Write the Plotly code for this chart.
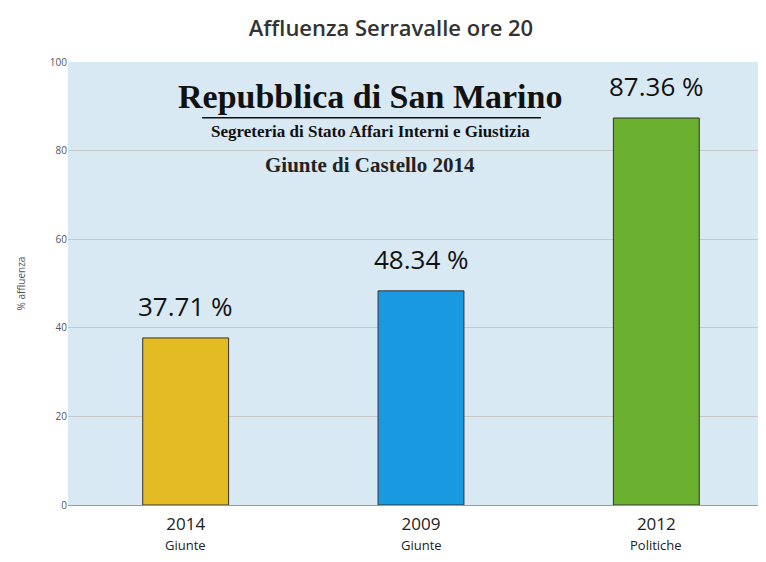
import plotly.graph_objects as go

years = ["2014", "2009", "2012"]
kinds = ["Giunte", "Giunte", "Politiche"]
values = [37.71, 48.34, 87.36]
colors = ["#e3bc23", "#1899e0", "#6aaf2d"]

xs = [0, 1, 2]

fig = go.Figure()
fig.add_trace(go.Bar(
    x=xs, y=values, width=0.365,
    marker=dict(color=colors, line=dict(color="#333333", width=1)),
))

ann = []
for x, v in zip(xs, values):
    ann.append(dict(x=x, y=v, text=f"{v:.2f} %", showarrow=False, yanchor="bottom", yshift=12,
                    font=dict(family="Open Sans", size=26, color="#111111", weight=500)))
for x, k in zip(xs, kinds):
    ann.append(dict(x=x, y=-0.09, yref="paper", text=k, showarrow=False, yanchor="middle",
                    font=dict(family="Open Sans", size=13, color="#222222")))
hx = 0.428
ann += [
    dict(text="<b>Repubblica di San Marino</b>", x=hx, y=0.921, xref="paper", yref="paper", yanchor="middle",
         showarrow=False, font=dict(family="Liberation Serif", size=34, color="#111111")),
    dict(text="<b>Segreteria di Stato Affari Interni e Giustizia</b>", x=hx, y=0.844, xref="paper", yref="paper",
         yanchor="middle", showarrow=False, font=dict(family="Liberation Serif", size=17, color="#111111")),
    dict(text="<b>Giunte di Castello 2014</b>", x=hx, y=0.767, xref="paper", yref="paper", yanchor="middle",
         showarrow=False, font=dict(family="Liberation Serif", size=21, color="#222222")),
]

fig.update_layout(
    width=766, height=562,
    margin=dict(l=60, r=0, t=54, b=65),
    paper_bgcolor="white", plot_bgcolor="#d9e9f4",
    title=dict(text="Affluenza Serravalle ore 20", x=0.5, xanchor="center", yanchor="middle", y=0.963,
               font=dict(family="Open Sans", size=22, color="#333333", weight=600)),
    showlegend=False,
    xaxis=dict(range=[-0.5, 2.5], tickvals=xs, ticktext=years, ticklabelstandoff=4,
               tickfont=dict(family="Open Sans", size=17, color="#222222"),
               showline=True, linecolor="#999999", showgrid=False, ticks=""),
    yaxis=dict(range=[0, 100], dtick=20, gridcolor="#c8c8c8",
               tickfont=dict(family="Open Sans", size=10, color="#555555"),
               title=dict(text="% affluenza", font=dict(family="Open Sans", size=10, color="#555555"), standoff=22),
               zeroline=False),
    annotations=ann,
    shapes=[dict(type="line", xref="paper", yref="paper", x0=0.19, x1=0.67, y0=0.874, y1=0.874,
                 line=dict(color="#111111", width=1.5))],
)
fig.write_html("out.html")
